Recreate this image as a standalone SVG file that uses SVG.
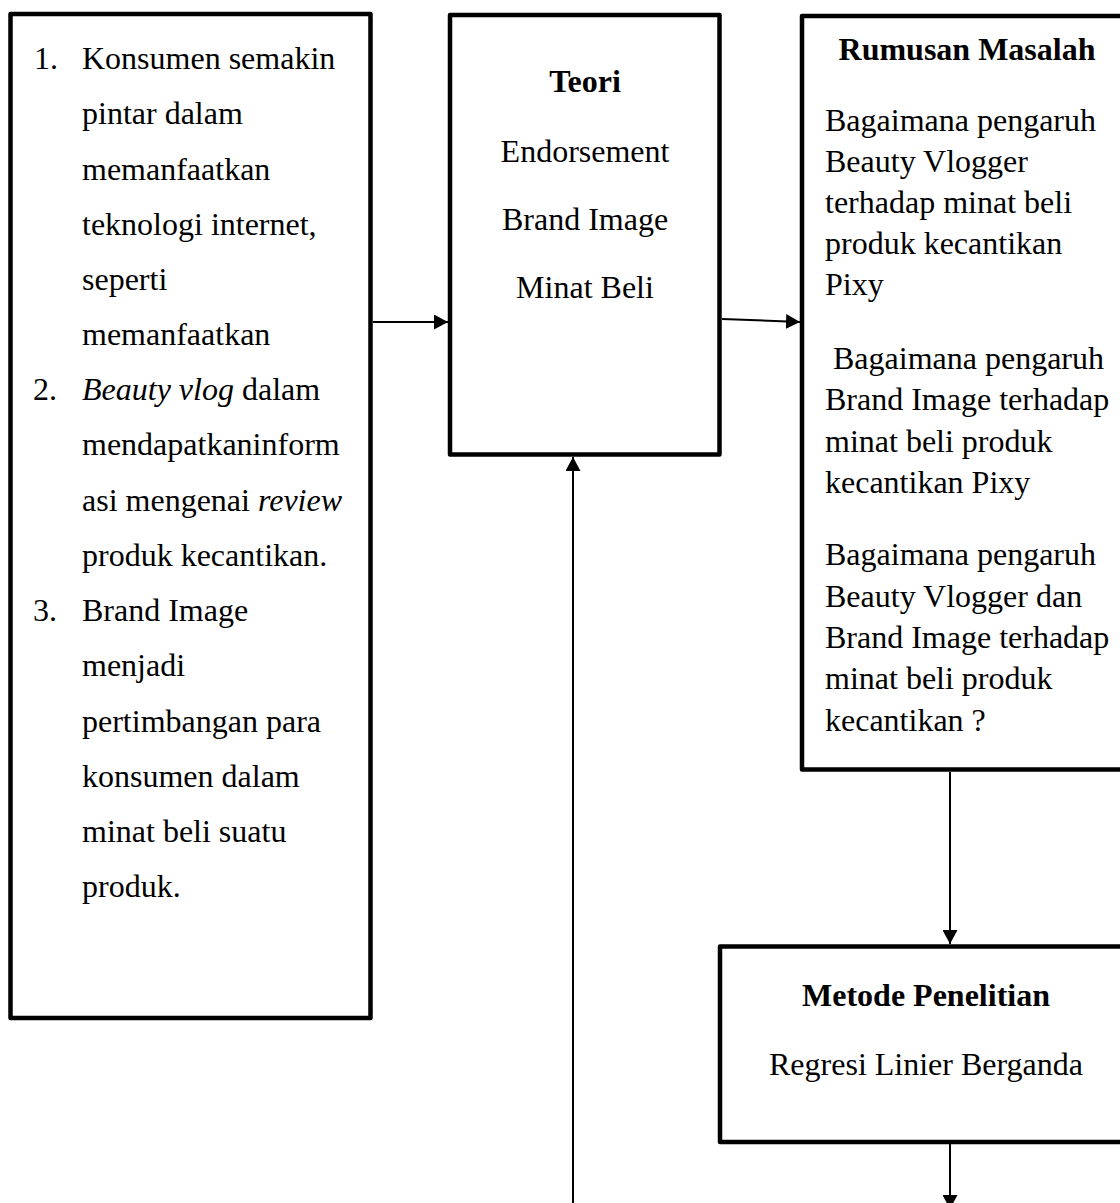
<svg xmlns="http://www.w3.org/2000/svg" width="1120" height="1203" viewBox="0 0 1120 1203">
<style>
.box{fill:#fff;stroke:#000;stroke-width:4.5;stroke-linejoin:round}
.t{font-family:"Liberation Serif","Times New Roman",serif;font-size:32px;fill:#000}
.b{font-weight:bold}
.c{text-anchor:middle}
.i{font-style:italic}
.con{stroke:#000;stroke-width:2;fill:none}
</style>
<defs>
<marker id="arr" markerUnits="userSpaceOnUse" markerWidth="14" markerHeight="15" refX="14" refY="7.5" orient="auto">
<path d="M0,0 L14,7.5 L0,15 z" fill="#000"/>
</marker>
</defs>
<rect width="1120" height="1203" fill="#fff"/>
<g id="latar">
<rect class="box" x="10.5" y="14" width="360" height="1004"/>
<g class="t">
<text x="34" y="69">1.</text>
<text x="82" y="69">Konsumen semakin</text>
<text x="82" y="124">pintar dalam</text>
<text x="82" y="180">memanfaatkan</text>
<text x="82" y="235">teknologi internet,</text>
<text x="82" y="290">seperti</text>
<text x="82" y="345">memanfaatkan</text>
<text x="33" y="400">2.</text>
<text x="82" y="400"><tspan class="i">Beauty vlog</tspan> dalam</text>
<text x="82" y="455">mendapatkaninform</text>
<text x="82" y="511">asi mengenai <tspan class="i">review</tspan></text>
<text x="82" y="566">produk kecantikan.</text>
<text x="33" y="621">3.</text>
<text x="82" y="621">Brand Image</text>
<text x="82" y="676">menjadi</text>
<text x="82" y="732">pertimbangan para</text>
<text x="82" y="787">konsumen dalam</text>
<text x="82" y="842">minat beli suatu</text>
<text x="82" y="897">produk.</text>
</g>
</g>
<g id="teori">
<rect class="box" x="450" y="15" width="269.5" height="439.5"/>
<g class="t c">
<text class="b" x="585" y="92">Teori</text>
<text x="585" y="162">Endorsement</text>
<text x="585" y="230">Brand Image</text>
<text x="585" y="298">Minat Beli</text>
</g>
</g>
<g id="rumusan">
<rect class="box" x="802" y="16" width="330" height="753.5"/>
<g class="t">
<text class="b c" x="967" y="60">Rumusan Masalah</text>
<text x="825" y="131">Bagaimana pengaruh</text>
<text x="825" y="171.5">Beauty Vlogger</text>
<text x="825" y="212.5">terhadap minat beli</text>
<text x="825" y="253.5">produk kecantikan</text>
<text x="825" y="295">Pixy</text>
<text x="833" y="369">Bagaimana pengaruh</text>
<text x="825" y="410">Brand Image terhadap</text>
<text x="825" y="451.5">minat beli produk</text>
<text x="825" y="492.5">kecantikan Pixy</text>
<text x="825" y="565">Bagaimana pengaruh</text>
<text x="825" y="606.5">Beauty Vlogger dan</text>
<text x="825" y="647.5">Brand Image terhadap</text>
<text x="825" y="689">minat beli produk</text>
<text x="825" y="731">kecantikan ?</text>
</g>
</g>
<g id="metode">
<rect class="box" x="720" y="946.5" width="420" height="195.5"/>
<g class="t c">
<text class="b" x="926" y="1006">Metode Penelitian</text>
<text x="926" y="1075">Regresi Linier Berganda</text>
</g>
</g>
<g id="connectors">
<line class="con" x1="373" y1="322" x2="448" y2="322" marker-end="url(#arr)"/>
<line class="con" x1="722" y1="319" x2="800" y2="322" marker-end="url(#arr)"/>
<line class="con" x1="950" y1="772" x2="950" y2="944" marker-end="url(#arr)"/>
<line class="con" x1="950" y1="1144" x2="950" y2="1209" marker-end="url(#arr)"/>
<line class="con" x1="573" y1="1203" x2="573" y2="457" marker-end="url(#arr)"/>
</g>
</svg>
